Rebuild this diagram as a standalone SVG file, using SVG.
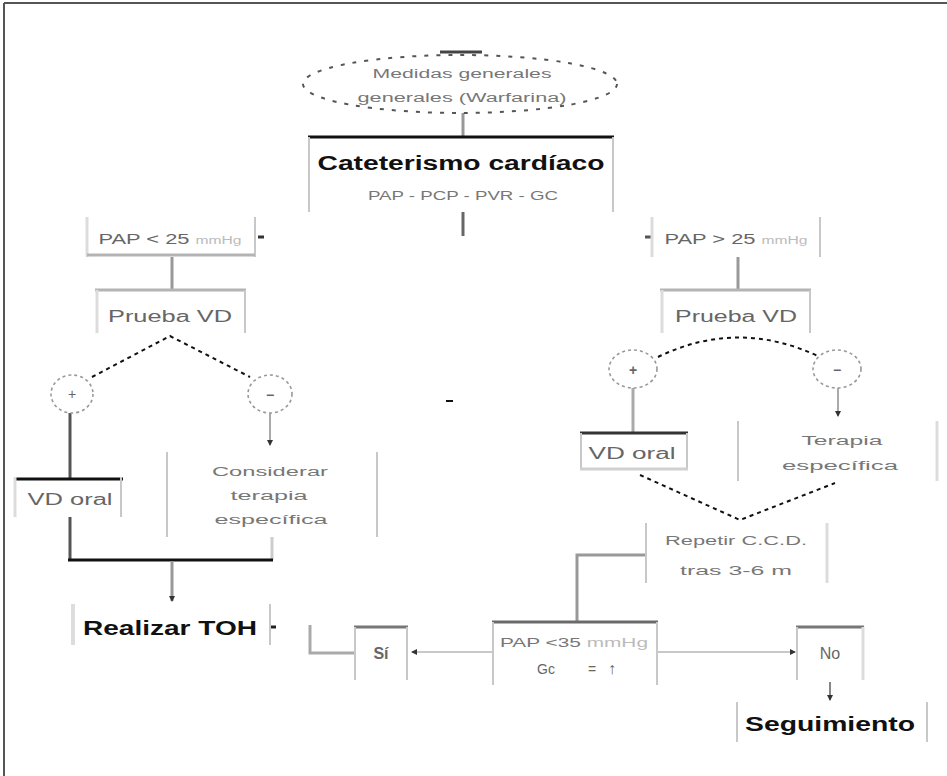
<svg xmlns="http://www.w3.org/2000/svg" width="947" height="776" viewBox="0 0 947 776">
<style>
text{font-family:"Liberation Sans",Arial,sans-serif;text-anchor:middle}
.t{font-size:14px;fill:#666}
.s{font-size:12px;fill:#777}
.b{font-size:20px;font-weight:bold;fill:#111}
.m{font-size:16px;fill:#666}
.bar{stroke:#c8c8c8;stroke-width:2;fill:none}
.barl{stroke:#dcdcdc;stroke-width:3;fill:none}
.top{stroke:#111;stroke-width:3;fill:none}
.topg{stroke:#b4b4b4;stroke-width:3;fill:none}
.topd{stroke:#6a6a6a;stroke-width:3;fill:none}
.ln{stroke:#999;stroke-width:3;fill:none}
.lnd{stroke:#555;stroke-width:3;fill:none}
.lnl{stroke:#c8c8c8;stroke-width:2;fill:none}
.dash{stroke:#111;stroke-width:2;stroke-dasharray:4 4;fill:none}
.circ{stroke:#999;stroke-width:1.6;stroke-dasharray:3 3;fill:none}
</style>
<defs>
<marker id="ah" markerWidth="6" markerHeight="6" refX="5" refY="3" orient="auto" markerUnits="userSpaceOnUse">
<path d="M0,0 L6,3 L0,6 z" fill="#333"/>
</marker>
</defs>
<rect width="947" height="776" fill="#fff"/>
<g id="frame">
<line x1="4" y1="3" x2="4" y2="776" stroke="#555" stroke-width="2"/>
<line x1="4" y1="3" x2="947" y2="3" stroke="#555" stroke-width="2"/>
</g>

<g id="connectors">
<line x1="440" y1="52" x2="482" y2="52" stroke="#444" stroke-width="3"/>
<line x1="463" y1="113" x2="463" y2="136" stroke="#999" stroke-width="3"/>
<line x1="463" y1="212" x2="463" y2="236" stroke="#666" stroke-width="3"/>
<line x1="446" y1="401" x2="453" y2="401" stroke="#111" stroke-width="2"/>
<line x1="172" y1="257" x2="172" y2="289" class="ln"/>
<line x1="738" y1="257" x2="738" y2="289" class="ln"/>
<path d="M92,377 L170,336 L250,377" class="dash"/>
<path d="M658,357 Q738,318 820,357" class="dash"/>
<line x1="70" y1="413" x2="70" y2="478" class="lnd"/>
<line x1="270" y1="413" x2="270" y2="445" stroke="#aaa" stroke-width="2" marker-end="url(#ah)"/>
<line x1="70" y1="517" x2="70" y2="560" class="lnd"/>
<line x1="272" y1="537" x2="272" y2="560" stroke="#ccc" stroke-width="3"/>
<line x1="68" y1="560" x2="273" y2="560" class="top"/>
<line x1="172" y1="561" x2="172" y2="601" class="ln" marker-end="url(#ah)"/>
<line x1="633" y1="388" x2="633" y2="432" stroke="#aaa" stroke-width="3"/>
<line x1="838" y1="388" x2="838" y2="416" stroke="#aaa" stroke-width="2" marker-end="url(#ah)"/>
<path d="M640,475 L740,520 L835,483" class="dash"/>
<path d="M646,555 L577,555 L577,621" class="ln"/>
<line x1="493" y1="652" x2="412" y2="652" class="lnl" marker-end="url(#ah)"/>
<line x1="657" y1="652" x2="795" y2="652" class="lnl" marker-end="url(#ah)"/>
<path d="M355,653 L310,653 L310,625" stroke="#aaa" stroke-width="3" fill="none"/>
<line x1="830" y1="682" x2="830" y2="700" stroke="#888" stroke-width="2" marker-end="url(#ah)"/>
<line x1="258" y1="237" x2="264" y2="237" stroke="#333" stroke-width="3"/>
<line x1="645" y1="237" x2="651" y2="237" stroke="#555" stroke-width="3"/>
<line x1="271" y1="627" x2="276" y2="627" stroke="#222" stroke-width="3"/>
</g>

<g id="n-medidas">
<ellipse cx="460" cy="84" rx="157" ry="29" stroke="#555" stroke-width="2" stroke-dasharray="4 8" fill="none"/>
<text x="462" y="78" class="s" fill="#666" textLength="179" lengthAdjust="spacingAndGlyphs">Medidas generales</text>
<text x="462" y="102" class="s" fill="#666" textLength="209" lengthAdjust="spacingAndGlyphs">generales (Warfarina)</text>
</g>

<g id="n-cateterismo">
<line x1="308" y1="137" x2="614" y2="137" class="top" stroke-width="4"/>
<line x1="309" y1="137" x2="309" y2="212" class="bar"/>
<line x1="613" y1="137" x2="613" y2="212" class="bar"/>
<text x="461" y="170" class="b" textLength="287" lengthAdjust="spacingAndGlyphs">Cateterismo cardíaco</text>
<text x="463" y="200" class="s" textLength="190" lengthAdjust="spacingAndGlyphs">PAP - PCP - PVR - GC</text>
</g>

<g id="n-pap-menor">
<line x1="87" y1="217" x2="87" y2="257" class="barl"/>
<line x1="255" y1="217" x2="255" y2="257" class="bar"/>
<line x1="87" y1="255" x2="255" y2="255" class="topg"/>
<text x="170" y="244" class="t" textLength="143" lengthAdjust="spacingAndGlyphs">PAP &lt; 25 <tspan font-size="10" fill="#bbb">mmHg</tspan></text>
</g>

<g id="n-pap-mayor">
<line x1="652" y1="217" x2="652" y2="257" class="barl"/>
<line x1="820" y1="217" x2="820" y2="257" class="bar"/>
<text x="736" y="244" class="t" textLength="143" lengthAdjust="spacingAndGlyphs">PAP &gt; 25 <tspan font-size="10" fill="#bbb">mmHg</tspan></text>
</g>

<g id="n-prueba-izq">
<line x1="95" y1="290" x2="246" y2="290" class="topg"/>
<line x1="97" y1="290" x2="97" y2="333" class="barl"/>
<line x1="245" y1="290" x2="245" y2="333" class="bar"/>
<text x="170" y="322" class="m" textLength="124" lengthAdjust="spacingAndGlyphs">Prueba VD</text>
</g>

<g id="n-prueba-der">
<line x1="660" y1="290" x2="811" y2="290" class="topg"/>
<line x1="662" y1="290" x2="662" y2="333" class="barl"/>
<line x1="810" y1="290" x2="810" y2="333" class="bar"/>
<text x="736" y="322" class="m" textLength="122" lengthAdjust="spacingAndGlyphs">Prueba VD</text>
</g>

<g id="n-pos-izq">
<ellipse cx="72" cy="394" rx="21" ry="19" class="circ"/>
<text x="72" y="399" class="t" fill="#888">+</text>
</g>
<g id="n-neg-izq">
<ellipse cx="270" cy="394" rx="22" ry="19" class="circ"/>
<text x="270" y="400" class="t" fill="#333" font-weight="bold">−</text>
</g>
<g id="n-pos-der">
<ellipse cx="633" cy="369" rx="24" ry="19" class="circ"/>
<text x="633" y="375" class="t" fill="#222" font-weight="bold">+</text>
</g>
<g id="n-neg-der">
<ellipse cx="837" cy="369" rx="24" ry="19" class="circ"/>
<text x="837" y="375" class="t" fill="#222" font-weight="bold">−</text>
</g>

<g id="n-vdoral-izq">
<line x1="16" y1="479" x2="123" y2="479" class="top"/>
<line x1="15" y1="477" x2="15" y2="517" class="barl"/>
<line x1="121" y1="477" x2="121" y2="517" class="bar"/>
<text x="70" y="505" class="m" textLength="85" lengthAdjust="spacingAndGlyphs">VD oral</text>
</g>

<g id="n-considerar">
<line x1="167" y1="452" x2="167" y2="537" class="bar"/>
<line x1="377" y1="452" x2="377" y2="537" class="bar"/>
<text x="270" y="476" class="s" textLength="116" lengthAdjust="spacingAndGlyphs">Considerar</text>
<text x="269" y="500" class="s" textLength="77" lengthAdjust="spacingAndGlyphs">terapia</text>
<text x="271" y="524" class="s" textLength="113" lengthAdjust="spacingAndGlyphs">específica</text>
</g>

<g id="n-realizar">
<line x1="73" y1="604" x2="73" y2="645" stroke="#ddd" stroke-width="4"/>
<line x1="270" y1="604" x2="270" y2="645" class="bar"/>
<text x="170" y="635" class="b" textLength="174" lengthAdjust="spacingAndGlyphs">Realizar TOH</text>
</g>

<g id="n-vdoral-der">
<line x1="580" y1="433" x2="688" y2="433" stroke="#333" stroke-width="3"/>
<line x1="581" y1="433" x2="581" y2="469" class="bar"/>
<line x1="687" y1="433" x2="687" y2="469" class="bar"/>
<line x1="580" y1="469" x2="688" y2="469" stroke="#d0d0d0" stroke-width="3"/>
<text x="632" y="459" class="m" textLength="87" lengthAdjust="spacingAndGlyphs">VD oral</text>
</g>

<g id="n-terapia">
<line x1="738" y1="421" x2="738" y2="481" class="bar"/>
<line x1="937" y1="421" x2="937" y2="481" class="barl"/>
<text x="842" y="445" class="s" textLength="81" lengthAdjust="spacingAndGlyphs">Terapia</text>
<text x="840" y="470" class="s" textLength="116" lengthAdjust="spacingAndGlyphs">específica</text>
</g>

<g id="n-repetir">
<line x1="646" y1="523" x2="646" y2="583" class="bar"/>
<line x1="827" y1="523" x2="827" y2="583" class="barl"/>
<text x="736" y="545" class="s" textLength="142" lengthAdjust="spacingAndGlyphs">Repetir C.C.D.</text>
<text x="736" y="575" class="s" textLength="112" lengthAdjust="spacingAndGlyphs">tras 3-6 m</text>
</g>

<g id="n-pap35">
<line x1="492" y1="622" x2="658" y2="622" class="topd"/>
<line x1="493" y1="622" x2="493" y2="685" class="bar"/>
<line x1="657" y1="622" x2="657" y2="685" class="bar"/>
<text x="574" y="647" class="s" fill="#444" textLength="148" lengthAdjust="spacingAndGlyphs">PAP &lt;35 <tspan fill="#bbb">mmHg</tspan></text>
<text x="546" y="674" class="t">Gc</text>
<text x="592" y="674" class="t" fill="#999">=</text>
<text x="612" y="674" class="m" fill="#777">↑</text>
</g>

<g id="n-si">
<line x1="354" y1="627" x2="408" y2="627" stroke="#777" stroke-width="3"/>
<line x1="355" y1="627" x2="355" y2="680" class="bar"/>
<line x1="407" y1="627" x2="407" y2="680" class="bar"/>
<text x="381" y="659" class="m" fill="#333" font-weight="bold">Sí</text>
</g>

<g id="n-no">
<line x1="796" y1="627" x2="864" y2="627" stroke="#777" stroke-width="3"/>
<line x1="797" y1="627" x2="797" y2="680" class="bar"/>
<line x1="863" y1="627" x2="863" y2="680" class="barl"/>
<text x="830" y="659" class="m" fill="#444">No</text>
</g>

<g id="n-seguimiento">
<line x1="737" y1="702" x2="737" y2="742" class="bar"/>
<line x1="927" y1="702" x2="927" y2="742" class="bar"/>
<text x="830" y="731" class="b" font-size="18" textLength="170" lengthAdjust="spacingAndGlyphs">Seguimiento</text>
</g>
</svg>
